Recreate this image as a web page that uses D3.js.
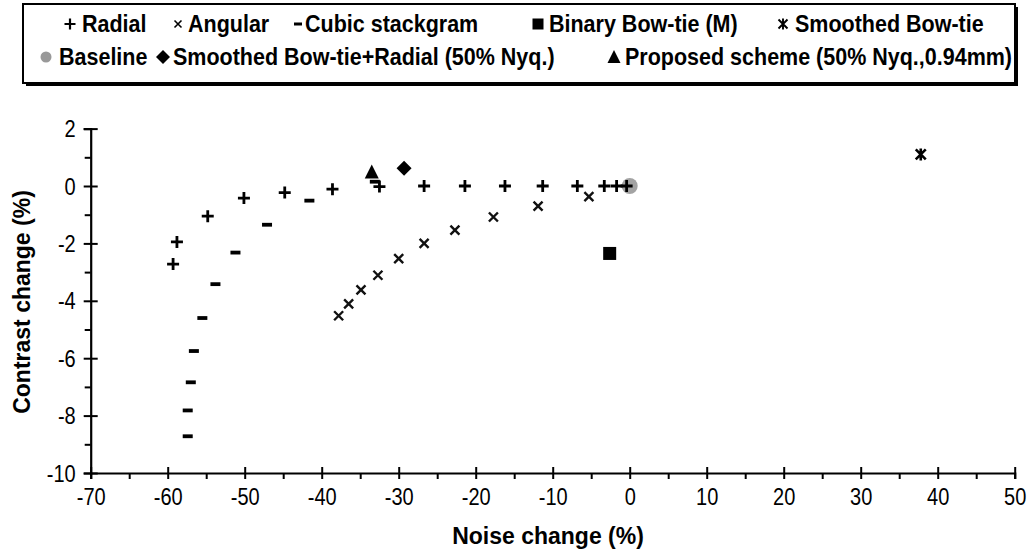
<!DOCTYPE html>
<html><head><meta charset="utf-8">
<script src="https://cdn.jsdelivr.net/npm/d3@7"></script>
<style>
html,body{margin:0;padding:0;background:#fff;}
svg{display:block;font-family:"Liberation Sans",Arial,sans-serif;}
</style></head>
<body>
<svg id="chart" width="1027" height="552"></svg>
<script>
// ---- data ----
const radialX = [-59.3, -58.8, -54.8, -50.1, -44.8, -38.6, -32.5, -26.7, -21.4, -16.2, -11.3, -6.8, -3.3, -1.7, -0.4];
const radialY = [-2.72, -1.95, -1.05, -0.42, -0.23, -0.11, -0.02, 0, 0, 0, 0, 0, 0, 0, 0];
const angularX = [-37.8, -36.5, -34.9, -32.7, -30.0, -26.7, -22.7, -17.7, -11.9, -5.3];
const angularY = [-4.52, -4.11, -3.62, -3.11, -2.53, -2.0, -1.54, -1.08, -0.70, -0.37];
const cubicX = [-57.4, -57.4, -57.0, -56.6, -55.5, -53.8, -51.2, -47.1, -41.6, -33.1];
const cubicY = [-8.72, -7.82, -6.84, -5.75, -4.6, -3.42, -2.32, -1.35, -0.51, 0.15];
const binaryX = [-2.6], binaryY = [-2.35];
const smoothX = [37.8], smoothY = [1.1];
const baselineX = [0], baselineY = [0];
const smoothRadX = [-29.3], smoothRadY = [0.62];
const proposedX = [-33.5], proposedY = [0.47];
const xTicks = [-70, -60, -50, -40, -30, -20, -10, 0, 10, 20, 30, 40, 50];
const yTicks = [-10, -8, -6, -4, -2, 0, 2];
const legendRow1 = ["Radial", "Angular", "Cubic stackgram", "Binary Bow-tie (M)", "Smoothed Bow-tie"];
const legendRow2 = ["Baseline", "Smoothed Bow-tie+Radial (50% Nyq.)", "Proposed scheme (50% Nyq.,0.94mm)"];
const xTitle = "Noise change (%)";
const yTitle = "Contrast change (%)";

const svg = d3.select("#chart");
const x = d3.scaleLinear().domain([-70, 50]).range([90.7, 1014.7]);
const y = d3.scaleLinear().domain([-10, 2]).range([473, 128.6]);

// ---- marker drawers ----
function drawMarker(g, type, cx, cy) {
  const s = g.append("g").attr("transform", `translate(${cx},${cy})`);
  if (type === "plus") {
    s.append("path").attr("d", "M-6,0H6M0,-6V6").attr("stroke", "#000").attr("stroke-width", 2.8).attr("fill", "none");
  } else if (type === "cross") {
    s.append("path").attr("d", "M-4.5,-4.5L4.5,4.5M-4.5,4.5L4.5,-4.5").attr("stroke", "#111").attr("stroke-width", 2.4).attr("fill", "none");
  } else if (type === "dash") {
    s.append("rect").attr("x", -5).attr("y", -1.9).attr("width", 10).attr("height", 3.8).attr("fill", "#000");
  } else if (type === "square") {
    s.append("rect").attr("x", -6.5).attr("y", -6.5).attr("width", 13).attr("height", 13).attr("fill", "#000");
  } else if (type === "star") {
    s.append("path").attr("d", "M-5,-5L5,5M-5,5L5,-5M0,-6V6").attr("stroke", "#000").attr("stroke-width", 2.6).attr("fill", "none");
  } else if (type === "circle") {
    s.append("circle").attr("r", 8).attr("fill", "#999").attr("opacity", 0.9);
  } else if (type === "diamond") {
    s.append("path").attr("d", "M0,-7.5L7.5,0L0,7.5L-7.5,0Z").attr("fill", "#000");
  } else if (type === "triangle") {
    s.append("path").attr("d", "M0,-8L7,6H-7Z").attr("fill", "#000");
  }
}
function drawLegendMarker(g, type, cx, cy) {
  const s = g.append("g").attr("transform", `translate(${cx},${cy})`);
  if (type === "plus") {
    s.append("path").attr("d", "M-5.5,0H5.5M0,-5.5V5.5").attr("stroke", "#000").attr("stroke-width", 2.2).attr("fill", "none");
  } else if (type === "cross") {
    s.append("path").attr("d", "M-3.5,-3.5L3.5,3.5M-3.5,3.5L3.5,-3.5").attr("stroke", "#000").attr("stroke-width", 1.6).attr("fill", "none");
  } else if (type === "dash") {
    s.append("rect").attr("x", -4).attr("y", -1.5).attr("width", 8).attr("height", 3).attr("fill", "#000");
  } else if (type === "square") {
    s.append("rect").attr("x", -5.5).attr("y", -5.5).attr("width", 11).attr("height", 11).attr("fill", "#000");
  } else if (type === "star") {
    s.append("path").attr("d", "M-4.5,-4.5L4.5,4.5M-4.5,4.5L4.5,-4.5M0,-5.5V5.5").attr("stroke", "#000").attr("stroke-width", 1.9).attr("fill", "none");
  } else if (type === "circle") {
    s.append("circle").attr("r", 5.5).attr("fill", "#999");
  } else if (type === "diamond") {
    s.append("path").attr("d", "M0,-7L7,0L0,7L-7,0Z").attr("fill", "#000");
  } else if (type === "triangle") {
    s.append("path").attr("d", "M0,-7L6.5,6H-6.5Z").attr("fill", "#000");
  }
}

// ---- axes ----
const axG = svg.append("g");
const xMinor = d3.range(-65, 50, 10);
const yMinor = d3.range(-9, 2, 2);

const xAxis = axG.append("g").attr("transform", `translate(0,${y(-10)})`)
  .call(d3.axisBottom(x).tickValues(xTicks).tickSize(6).tickFormat(d => d));
xAxis.select(".domain").attr("stroke-width", 2.2).attr("stroke", "#000");
xAxis.selectAll(".tick line").attr("y1", -6).attr("stroke-width", 2).attr("stroke", "#000");
xAxis.selectAll(".tick text").attr("y", 0).attr("dy", 0)
  .attr("transform", "translate(0,32) scale(1,1.15)")
  .attr("font-size", 20).attr("font-family", "Liberation Sans, Arial, sans-serif").attr("fill", "#000");
const xAxisMinor = axG.append("g").attr("transform", `translate(0,${y(-10)})`)
  .call(d3.axisBottom(x).tickValues(xMinor).tickSize(6).tickFormat(""));
xAxisMinor.select(".domain").remove();
xAxisMinor.selectAll(".tick line").attr("stroke-width", 2).attr("stroke", "#000");

const yAxis = axG.append("g").attr("transform", `translate(${x(-70)},0)`)
  .call(d3.axisLeft(y).tickValues(yTicks).tickSize(7).tickFormat(d => d));
yAxis.select(".domain").attr("stroke-width", 2.2).attr("stroke", "#000");
yAxis.selectAll(".tick line").attr("x1", 7).attr("stroke-width", 2).attr("stroke", "#000");
yAxis.selectAll(".tick text").attr("x", 0).attr("dy", 0)
  .attr("transform", "translate(-15,8) scale(1,1.15)")
  .attr("font-size", 20).attr("font-family", "Liberation Sans, Arial, sans-serif").attr("fill", "#000");
const yAxisMinor = axG.append("g").attr("transform", `translate(${x(-70)},0)`)
  .call(d3.axisLeft(y).tickValues(yMinor).tickSize(6).tickFormat(""));
yAxisMinor.select(".domain").remove();
yAxisMinor.selectAll(".tick line").attr("stroke-width", 2).attr("stroke", "#000");

// axis titles
svg.append("text").attr("x", 548).attr("y", 544).attr("text-anchor", "middle")
  .attr("font-size", 23).attr("font-weight", "bold").text(xTitle);
svg.append("text").attr("transform", `translate(30,302) rotate(-90)`).attr("text-anchor", "middle")
  .attr("font-size", 23).attr("font-weight", "bold").text(yTitle);

// ---- marks ----
const mk = svg.append("g");
function series(xs, ys, type) {
  xs.forEach((v, i) => drawMarker(mk, type, x(v), y(ys[i])));
}
series(baselineX, baselineY, "circle");
series(cubicX, cubicY, "dash");
series(angularX, angularY, "cross");
series(radialX, radialY, "plus");
series(binaryX, binaryY, "square");
series(smoothX, smoothY, "star");
series(smoothRadX, smoothRadY, "diamond");
series(proposedX, proposedY, "triangle");

// ---- legend ----
const lg = svg.append("g");
lg.append("rect").attr("x", 26).attr("y", 7).attr("width", 992).attr("height", 79).attr("fill", "#000");
lg.append("rect").attr("x", 23).attr("y", 4).attr("width", 992).attr("height", 79)
  .attr("fill", "#fff").attr("stroke", "#000").attr("stroke-width", 2);
const row1 = [
  {m: "plus", mx: 70, tx: 82},
  {m: "cross", mx: 178, tx: 188},
  {m: "dash", mx: 298, tx: 305},
  {m: "square", mx: 538, tx: 549},
  {m: "star", mx: 783, tx: 795}
];
const row2 = [
  {m: "circle", mx: 46, tx: 59},
  {m: "diamond", mx: 163, tx: 173},
  {m: "triangle", mx: 614, tx: 625}
];
function legendRow(items, labels, cy) {
  items.forEach((it, i) => {
    drawLegendMarker(lg, it.m, it.mx, cy);
    lg.append("text").attr("transform", `translate(${it.tx},${cy + 8}) scale(1,1.1)`)
      .attr("font-size", 21.5).attr("font-weight", "bold").text(labels[i]);
  });
}
legendRow(row1, legendRow1, 24);
legendRow(row2, legendRow2, 57);
</script>
</body></html>
